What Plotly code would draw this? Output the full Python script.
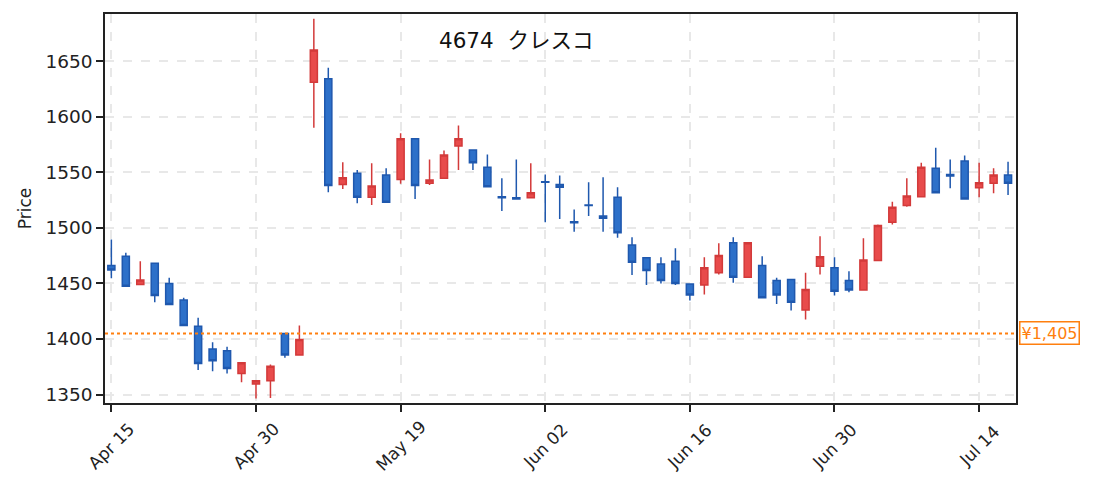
import plotly.graph_objects as go

dates = (
    ["2025-04-15", "2025-04-16", "2025-04-17", "2025-04-18", "2025-04-21",
     "2025-04-22", "2025-04-23", "2025-04-24", "2025-04-25", "2025-04-28",
     "2025-04-30", "2025-05-01", "2025-05-07", "2025-05-08", "2025-05-09",
     "2025-05-12", "2025-05-13", "2025-05-14", "2025-05-15", "2025-05-16",
     "2025-05-19", "2025-05-20", "2025-05-21", "2025-05-22", "2025-05-23",
     "2025-05-26", "2025-05-27", "2025-05-28", "2025-05-29", "2025-05-30",
     "2025-06-02", "2025-06-03", "2025-06-04", "2025-06-05", "2025-06-06",
     "2025-06-09", "2025-06-10", "2025-06-11", "2025-06-12", "2025-06-13",
     "2025-06-16", "2025-06-17", "2025-06-18", "2025-06-19", "2025-06-20",
     "2025-06-23", "2025-06-24", "2025-06-25", "2025-06-26", "2025-06-27",
     "2025-06-30", "2025-07-01", "2025-07-02", "2025-07-03", "2025-07-04",
     "2025-07-07", "2025-07-08", "2025-07-09", "2025-07-10", "2025-07-11",
     "2025-07-14", "2025-07-15", "2025-07-16"]
)

opens = [1466, 1474.5, 1449, 1468, 1450, 1435, 1411.5, 1391, 1389.5, 1369,
         1359.5, 1362.5, 1405, 1385.5, 1631, 1634, 1539, 1549, 1527.5, 1547.5,
         1543.5, 1580, 1540, 1544.5, 1573.5, 1570, 1554.5, 1528, 1527, 1527,
         1541.5, 1539, 1505.5, 1520.5, 1510.5, 1527.5, 1484.5, 1473, 1467.5, 1470,
         1449.5, 1448.5, 1459.5, 1486.5, 1455.5, 1466, 1452.5, 1453.5, 1426, 1465.5,
         1464, 1452.5, 1444, 1470.5, 1505, 1520, 1528, 1553.5, 1548, 1560,
         1536, 1540, 1547.5]
highs = [1489.5, 1477.5, 1470, 1468, 1455, 1437, 1419, 1397, 1393, 1378.5,
         1362.5, 1377, 1405.5, 1412, 1688, 1644, 1559, 1552, 1558, 1553.5,
         1585, 1580, 1561.5, 1569.5, 1592, 1570, 1566, 1544.5, 1561.5, 1558,
         1548, 1547, 1516.5, 1541, 1545.5, 1536.5, 1491.5, 1473, 1473.5, 1481.5,
         1450, 1473.5, 1486, 1491.5, 1486.5, 1474.5, 1455, 1453.5, 1459.5, 1492.5,
         1473.5, 1461, 1490.5, 1503, 1523.5, 1544.5, 1558.5, 1572, 1561.5, 1565,
         1558.5, 1553.5, 1559.5]
lows = [1454.7, 1447, 1449, 1433, 1431, 1412, 1372, 1371, 1369, 1361,
        1346.5, 1347, 1383, 1385.5, 1590, 1532, 1535, 1522, 1520.5, 1523,
        1539.5, 1526, 1538.5, 1544.5, 1552, 1552, 1537, 1515, 1525.5, 1527,
        1505, 1508, 1496.5, 1510.5, 1496.5, 1491, 1457.5, 1448.5, 1450, 1448.5,
        1434.5, 1440, 1458, 1450.5, 1455.5, 1437, 1431.5, 1425.5, 1417.5, 1458,
        1439, 1442, 1444, 1470.5, 1503, 1519, 1528, 1531.5, 1535.5, 1526,
        1527.5, 1531, 1529.5]
closes = [1462, 1447.5, 1453, 1439, 1431, 1412, 1378, 1380.5, 1373.5, 1378.5,
          1362.5, 1375.5, 1385.5, 1399.5, 1660, 1538, 1545, 1527.5, 1537.5, 1523,
          1580, 1538, 1543, 1565.5, 1580, 1558.5, 1537, 1527, 1526, 1531.5,
          1541, 1536.5, 1504.5, 1520, 1508.5, 1495.5, 1469, 1461.5, 1452.5, 1450,
          1439.5, 1464, 1475, 1455.5, 1486.5, 1437, 1439.5, 1433, 1444.5, 1474,
          1443, 1444, 1471, 1502, 1518.5, 1528.5, 1554.5, 1531.5, 1546.5, 1526,
          1540.5, 1547.5, 1540]

tick_dates = ["2025-04-15", "2025-04-30", "2025-05-19", "2025-06-02",
              "2025-06-16", "2025-06-30", "2025-07-14"]
tick_labels = ["Apr 15", "Apr 30", "May 19", "Jun 02", "Jun 16", "Jun 30", "Jul 14"]
price_ticks = [1350, 1400, 1450, 1500, 1550, 1600, 1650]

ref_price = 1405
title_text = "4674  クレスコ"

# DejaVu for latin glyphs, CJK font picks up the katakana
FONT = "DejaVu Sans, Noto Sans CJK JP, sans-serif"

fig = go.Figure(go.Candlestick(
    x=dates, open=opens, high=highs, low=lows, close=closes,
    increasing=dict(line=dict(color="#d33a3a", width=1.5), fillcolor="#e84b4b"),
    decreasing=dict(line=dict(color="#1f58ae", width=1.5), fillcolor="#2d70c9"),
    whiskerwidth=0,
    showlegend=False,
))

# reference price line + tag on the right
fig.add_shape(type="line", xref="paper", x0=0, x1=1, yref="y", y0=ref_price, y1=ref_price,
              line=dict(color="#ff7f0e", width=2, dash="dot"))
fig.add_annotation(xref="paper", x=1, yref="y", y=ref_price, xanchor="left", xshift=3,
                   text="¥{:,}".format(ref_price), showarrow=False,
                   font=dict(family=FONT, size=16, color="#ff7f0e"),
                   bgcolor="white", bordercolor="#ff7f0e", borderwidth=1.5, borderpad=1)

fig.add_annotation(xref="paper", x=0.451, yref="paper", y=0.933, xanchor="center", yanchor="middle",
                   text=title_text, showarrow=False,
                   font=dict(family=FONT, size=21.5, color="#111"))

# rotated date labels centred under their ticks (matplotlib style)
for d, lab in zip(tick_dates, tick_labels):
    fig.add_annotation(xref="x", x=d, yref="paper", y=0, yshift=-43,
                       xanchor="center", yanchor="middle", textangle=-45,
                       text=lab, showarrow=False,
                       font=dict(family=FONT, size=17, color="#222"))

axis_common = dict(
    showline=True, mirror=True, linecolor="#222", linewidth=1.5,
    ticks="outside", ticklen=7, tickcolor="#222", tickwidth=1.5,
    showgrid=True, gridcolor="#e8e8e8", griddash="dash", gridwidth=1.5,
    zeroline=False, automargin=False,
    tickfont=dict(family=FONT, size=18.5, color="#222"),
)

fig.update_xaxes(type="category", range=[-0.44, 62.55], tickmode="array",
                 tickvals=tick_dates, showticklabels=False,
                 rangeslider=dict(visible=False), **axis_common)
fig.update_yaxes(range=[1342.4, 1692.3], tickmode="array", tickvals=price_ticks,
                 title=dict(text="Price", font=dict(family=FONT, size=17, color="#222"), standoff=10),
                 **axis_common)

# page body has an 8px margin, so the figure is a bit smaller than the window
fig.update_layout(
    width=1079, height=476,
    margin=dict(l=97, r=71, t=6, b=81),
    paper_bgcolor="white", plot_bgcolor="white",
    font=dict(family=FONT),
)

fig.write_html("out.html")
